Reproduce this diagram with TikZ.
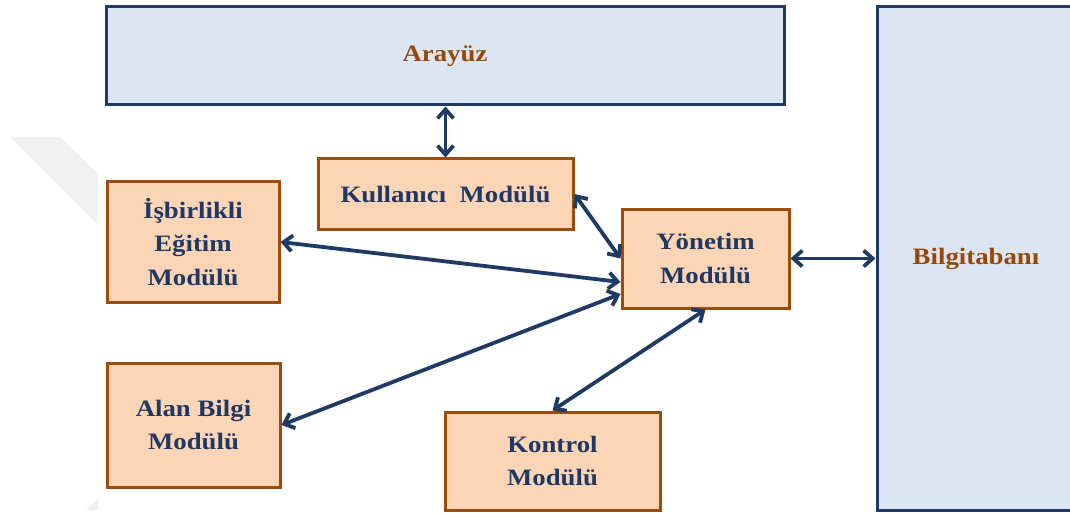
\documentclass[tikz,border=0pt]{standalone}
\usepackage{fontspec}
\setmainfont{Liberation Serif}
\newfontfamily\boxfont[FakeStretch=1.14]{Liberation Serif}
\usetikzlibrary{arrows.meta,shadows}
\definecolor{paneFill}{HTML}{DCE6F2}
\definecolor{paneLine}{HTML}{1F3B64}
\definecolor{modFill}{HTML}{FBD5B5}
\definecolor{modLine}{HTML}{9A4D0C}
\definecolor{modText}{HTML}{1F3864}
\definecolor{paneText}{HTML}{984806}
\definecolor{linkBlue}{HTML}{1F3B64}
\definecolor{markGray}{HTML}{F1F1F1}
\begin{document}
\begin{tikzpicture}[x=1pt,y=-1pt,
  lbl/.style={font=\boxfont\bfseries\fontsize{23.5}{33.5}\selectfont, align=center, inner sep=0pt},
  boxshadow/.style={drop shadow={shadow xshift=1.5pt, shadow yshift=-1.5pt, fill=black, opacity=0.2}},
  pane/.style={lbl, boxshadow, draw=paneLine, line width=3pt, fill=paneFill, text=paneText},
  module/.style={lbl, boxshadow, draw=modLine, line width=3pt, fill=modFill, text=modText},
  link/.style={draw=linkBlue, line width=3.8pt,
    {Straight Barb[length=9pt,width=16pt]}-{Straight Barb[length=9pt,width=16pt]}}]
  \useasboundingbox (0,0) rectangle (1070,513);

  % faint background mark on the left
  \fill[markGray] (10,137) -- (60,137) -- (98,174) -- (98,224) -- cycle;
  \fill[markGray] (86,510) -- (98,498) -- (98,510) -- cycle;

  % large panes
  \node[pane, minimum width=678pt, minimum height=98pt] (arayuz) at (445,56) {Arayüz};
  \node[pane, minimum width=198pt, minimum height=503pt] (bilgi) at (976,258.5) {Bilgitabanı};

  % modules
  \node[module, minimum width=255pt, minimum height=70pt] (kullanici) at (445.5,194) {Kullanıcı\ \ Modülü};
  \node[module, minimum width=172pt, minimum height=120pt] (isbirlikli) at (193,242) {İşbirlikli\\Eğitim\\Modülü};
  \node[module, minimum width=167pt, minimum height=99pt] (yonetim) at (705.5,258.5) {Yönetim\\Modülü};
  \node[module, minimum width=173pt, minimum height=124pt] (alan) at (193.5,425) {Alan Bilgi\\Modülü};
  \node[module, minimum width=215pt, minimum height=98pt] (kontrol) at (552.5,461) {Kontrol\\Modülü};

  % two-way links
  \draw[link] (kullanici.north |- arayuz.south) -- (kullanici.north);
  \draw[link] (kullanici.east) -- (yonetim.west);
  \draw[link] (isbirlikli.east) -- ([yshift=-23.5pt]yonetim.west);
  \draw[link] (alan.east) -- ([yshift=-35.5pt]yonetim.west);
  \draw[link] (kontrol.north) -- (yonetim.south);
  \draw[link] (yonetim.east) -- (bilgi.west |- yonetim.east);
\end{tikzpicture}
\end{document}
